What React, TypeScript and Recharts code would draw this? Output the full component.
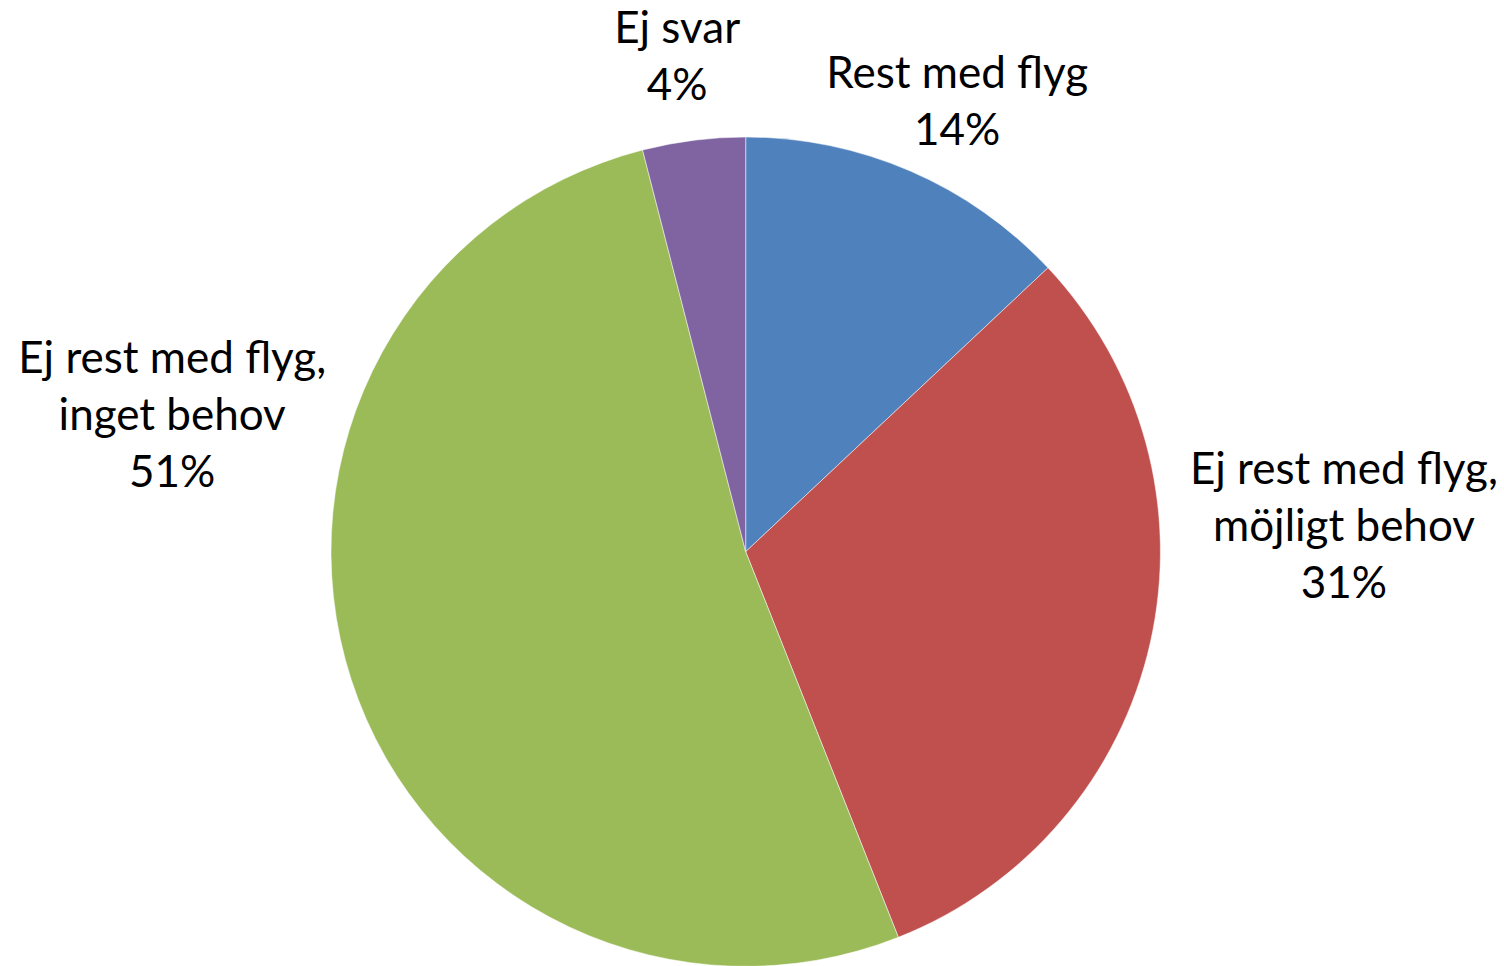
import { PieChart, Pie, Cell } from 'recharts';

const categories = [
  'Rest med flyg',
  'Ej rest med flyg, möjligt behov',
  'Ej rest med flyg, inget behov',
  'Ej svar',
];
const shares = [13, 31, 52, 4];
const labelPercents = ['14%', '31%', '51%', '4%'];
const labelLines = [
  ['Rest med flyg'],
  ['Ej rest med flyg,', 'möjligt behov'],
  ['Ej rest med flyg,', 'inget behov'],
  ['Ej svar'],
];

const COLORS = ['#4F81BD', '#C0504D', '#9BBB59', '#8064A2'];

// Excel-style label placement: offset from a point just outside each slice
const LABEL_NUDGE = [
  { dx: 23, dy: -28 },
  { dx: 135, dy: -171 },
  { dx: -122, dy: -325 },
  { dx: -9, dy: -38 },
];

const RADIAN = Math.PI / 180;
const LINE_GAP = 57;

const data = categories.map((name, i) => ({ name, value: shares[i] }));

function renderLabel(props: any) {
  const { cx, cy, midAngle, outerRadius, index } = props;
  const r = outerRadius + 60;
  const x = cx + r * Math.cos(-midAngle * RADIAN) + LABEL_NUDGE[index].dx;
  const y = cy + r * Math.sin(-midAngle * RADIAN) + LABEL_NUDGE[index].dy;
  const lines = [...labelLines[index], labelPercents[index]];
  return (
    <text
      key={`lbl-${index}`}
      x={x}
      y={y}
      textAnchor="middle"
      fill="#000"
      fontSize={44}
      fontFamily="Lato, 'Open Sans', sans-serif"
    >
      {lines.map((t, i) => (
        <tspan key={i} x={x} dy={i === 0 ? 0 : LINE_GAP}>
          {t}
        </tspan>
      ))}
    </text>
  );
}

export default function App() {
  return (
    <div style={{ position: 'absolute', left: 0, top: 0, width: 1504, height: 966, background: '#fff' }}>
      <PieChart width={1504} height={966} margin={{ top: 0, right: 0, bottom: 0, left: 0 }}>
        <Pie
          data={data}
          dataKey="value"
          nameKey="name"
          cx={745.7}
          cy={551.7}
          outerRadius={414.7}
          startAngle={90}
          endAngle={-270}
          stroke="#ffffff"
          strokeWidth={0.5}
          label={renderLabel}
          labelLine={false}
          isAnimationActive={false}
        >
          {data.map((d, i) => (
            <Cell key={d.name} fill={COLORS[i]} />
          ))}
        </Pie>
      </PieChart>
    </div>
  );
}
